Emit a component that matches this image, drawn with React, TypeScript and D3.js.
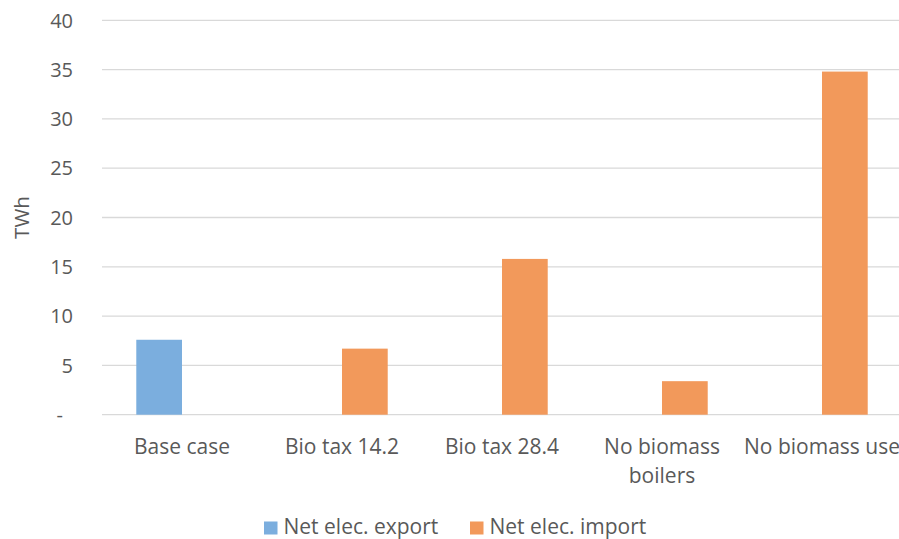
import React from "react";
import * as d3 from "d3";

// Scenario categories (line-broken labels as drawn under the axis)
const categories: string[] = [
  "Base case",
  "Bio tax 14.2",
  "Bio tax 28.4",
  "No biomass boilers",
  "No biomass use",
];
const categoryLines: string[][] = [
  ["Base case"],
  ["Bio tax 14.2"],
  ["Bio tax 28.4"],
  ["No biomass", "boilers"],
  ["No biomass use"],
];

const seriesNames: string[] = ["Net elec. export", "Net elec. import"];
const seriesColors: string[] = ["#7BAEDE", "#F2995B"];

// TWh per scenario
const netExport: number[] = [7.6, 0, 0, 0, 0];
const netImport: number[] = [0, 6.7, 15.8, 3.4, 34.8];

const yTicks: number[] = [0, 5, 10, 15, 20, 25, 30, 35, 40];
const yTickLabels: string[] = ["-", "5", "10", "15", "20", "25", "30", "35", "40"];

const W = 899;
const H = 539;
const FONT = "'Open Sans', sans-serif";
const TEXT = "#595959";

export default function App() {
  const x0 = d3.scaleBand<string>().domain(categories).range([102, 902]).paddingInner(0).paddingOuter(0);
  const x1 = d3
    .scaleBand<string>()
    .domain(seriesNames)
    .range([0, x0.bandwidth()])
    .paddingInner(0)
    .paddingOuter(0.75);
  const y = d3.scaleLinear().domain([0, 40]).range([414.7, 20.3]);

  const series = [netExport, netImport];

  return (
    <svg
      width={W}
      height={H}
      style={{ position: "absolute", left: 0, top: 0, background: "#fff" }}
      fontFamily={FONT}
    >
      {/* gridlines */}
      {yTicks.map((t) => (
        <line key={"g" + t} x1={102} x2={W} y1={y(t)} y2={y(t)} stroke="#D9D9D9" strokeWidth={1.3} />
      ))}
      {/* y tick labels */}
      {yTicks.map((t, i) => (
        <text
          key={"t" + t}
          x={t === 0 ? 63 : 73}
          y={y(t)}
          dy="0.36em"
          textAnchor="end"
          fontSize={20}
          fill={TEXT}
        >
          {yTickLabels[i]}
        </text>
      ))}
      {/* axis title */}
      <text
        transform={`translate(29,${y(20)}) rotate(-90)`}
        textAnchor="middle"
        fontSize={20.5}
        fill={TEXT}
      >
        TWh
      </text>
      {/* bars */}
      {categories.map((c, ci) =>
        seriesNames.map((s, si) => {
          const v = series[si][ci];
          if (!v) return null;
          return (
            <rect
              key={c + s}
              x={(x0(c) ?? 0) + (x1(s) ?? 0)}
              y={y(v)}
              width={x1.bandwidth()}
              height={y(0) - y(v)}
              fill={seriesColors[si]}
            />
          );
        })
      )}
      {/* category labels */}
      {categories.map((c, ci) => (
        <text
          key={"c" + c}
          x={(x0(c) ?? 0) + x0.bandwidth() / 2}
          y={453.5}
          textAnchor="middle"
          fontSize={21}
          fill={TEXT}
        >
          {categoryLines[ci].map((l, li) => (
            <tspan key={li} x={(x0(c) ?? 0) + x0.bandwidth() / 2} dy={li === 0 ? 0 : 29.5}>
              {l}
            </tspan>
          ))}
        </text>
      ))}
      {/* legend */}
      {seriesNames.map((s, si) => {
        const lx = [264, 470][si];
        return (
          <g key={"l" + s}>
            <rect x={lx} y={521.5} width={13.5} height={13} fill={seriesColors[si]} />
            <text x={lx + 19.5} y={533.5} fontSize={21} fill={TEXT}>
              {s}
            </text>
          </g>
        );
      })}
    </svg>
  );
}
